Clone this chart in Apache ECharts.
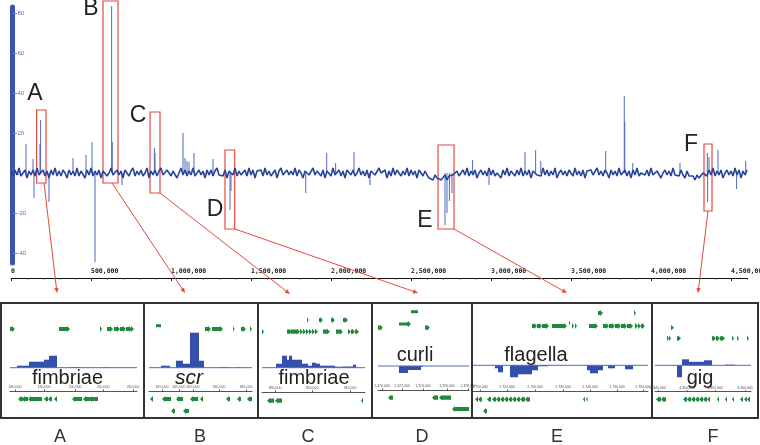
<!DOCTYPE html>
<html><head><meta charset="utf-8">
<script src="https://cdn.jsdelivr.net/npm/echarts@6/dist/echarts.min.js"></script>
<style>html,body{margin:0;padding:0;background:#fff}#c{width:760px;height:445px}</style>
</head><body><div id="c"></div>
<script>
// ---------- main genome-wide track ----------
const STEP = 12500; // bp between baseline samples
const signalBase = [
1,-1.5,1.5,-1,2.5,-1.5,0,1.5,-2.5,1,-1,1.5,-1.5,2.5,-1,0,1.5,-1.5,1,-2.5,
1.5,-1,2.5,-1.5,1,-1.5,1.5,0,-2.5,1.5,-1,1,-1.5,2.5,-1.5,1,0,-2.5,1.5,-1,
2.5,-1.5,1,-1,1.5,-2.5,1,1.5,-1.5,0,2.5,-1,-1.5,1.5,-1,1,-2.5,1.5,0,-1.5,
1,2.5,-1.5,1,-1,1.5,-1.5,0,2.5,-2.5,1,-1,1.5,-1.5,1,2.5,-1,-1.5,1.5,0,
-1.5,1,1.5,-2.5,0,2.5,-1,1.5,-1.5,1,-1,2.5,-1.5,0,1.5,-1,1,-2.5,1.5,-1,
1.5,-1.5,1,2.5,-1,0,-1.5,1.5,-2.5,1,1.5,-1,2.5,-1.5,1,-1,0,1.5,-1.5,2.5,
-1,1.5,-2.5,1,0,1.5,-1.5,2.5,-1,1,-1.5,0,1.5,-2.5,1,2.5,-1,-1.5,1.5,-1,
1,-1,2.5,-1.5,1.5,0,-2.5,1,1.5,-1,-1.5,2.5,-1,1,0,-1.5,1.5,-2.5,1,1.5,
-1.5,2.5,-1,0,1.5,-1.5,1,-2.5,1.5,1,-1,1.5,-1.5,0,2.5,-1,1,-1.5,1.5,-2.5,
1,1.5,-1,-1.5,2.5,0,-1,1.5,-2.5,1,-1.5,2.5,-1,1.5,0,-1.5,1,-1,2.5,-1.5,
1.5,-1,1,-2.5,1.5,0,-1.5,1,-1,-2.5,-1.5,-3.5,-1,-2.5,-1.5,-3.5,-2.5,-1,-3.5,-1.5,
-2.5,-1,-1.5,1,-1.5,0,1.5,-1,2.5,-1.5,1,-1,1.5,-2.5,0,1.5,-1,1,-1.5,2.5,
-1,1.5,-1.5,0,1,-2.5,1.5,-1,2.5,-1.5,1,0,-1.5,1.5,-1,2.5,-1.5,1,-1,1.5,
-2.5,1,1.5,-1,0,-1.5,2.5,-1,1.5,-1.5,1,-1,2.5,-2.5,0,1.5,-1,1,-1.5,1.5,
0,-1.5,2.5,-1,1,-1.5,1.5,-2.5,1,0,1.5,-1,-1.5,2.5,-1,1,-1.5,1.5,0,-2.5,
1.5,-1,1,-1.5,2.5,-1,0,1.5,-1.5,1,-2.5,1.5,-1,2.5,-1.5,0,1,-1,1.5,-1.5,
2.5,-1,-1.5,1,1.5,-2.5,0,1.5,-1,1,-1.5,2.5,-1,0,-1.5,1.5,-1,-2.5,1,-1.5,
-2.5,-1.5,-3.5,-1,-2.5,-1.5,0,1,-1.5,1.5,-1,2.5,-1.5,1,-1,1.5,-2.5,0,1.5,-1,
1,-1.5,2.5,-1,1.5,-2.5,1,-1,1.5
];
const spikes = [
[93750,14.5],[137500,7],[143750,-12.5],[181250,14.5],[185000,26.5],[237500,-14.5],
[387500,7.5],[468750,9],[506250,15.5],[525000,-44.5],[629000,83.5],[633000,15.5],
[693750,-6],[896000,12.5],[900000,10],[1075000,20],[1087500,7.5],[1100000,6],
[1112500,5.5],[1143750,10],[1262500,7],[1368750,-18.5],[1375000,-9],[1842000,-10],
[1973000,10],[2029000,5],[2143750,10.5],[2243750,-6],[2712500,-26],[2725000,-20],
[2740000,-14],[2756000,-10],[2885000,6.5],[2987500,-6],[3212500,10.5],[3279000,11.5],
[3311000,6],[3717000,11],[3833000,38.5],[3836000,25.5],[3886000,5],[4181000,5],
[4352000,10],[4354000,-14.5],[4362500,8],[4418750,11.5],[4535000,-8],[4592000,6]
];
const genomeTicks = [0,500000,1000000,1500000,2000000,2500000,3000000,3500000,4000000,4500000];
const yTicks = [-40,-20,0,20,40,60,80];
const regionNames = ['A','B','C','D','E','F'];
// [startBp, endBp, topValue, bottomValue]
const regionBoxes = [
[160000,218750,31.5,-5],[575000,668750,86,-5],[868750,931250,30.5,-10],
[1337500,1398000,11.5,-28],[2668750,2768750,14,-28],[4331250,4381250,14.5,-19]
];
// anchor of the connector on each box [bp, value]
const regionAnchors = [[206250,-5],[631250,-5],[931250,-10],[1400000,-28],[2768750,-28],[4356250,-19]];

// ---------- zoomed panels ----------
const panelLabels = ['fimbriae','scr','fimbriae','curli','flagella','gig'];
// genes: [start, end, track, strand]
const genesA = [[0,5,24,1],[49,60,24,1],[90,92,24,1],[97,103,24,1],[104,110,24,1],[110,116,24,1],[116,122,24,1],[121,124,24,1],
[8,13,94,-1],[12,18,94,-1],[18,32,94,-1],[34,38,94,-1],[38,42,94,-1],[44,47,94,-1],[62,72,94,-1],[73,80,94,-1],[79,88,94,-1]];
const genesB = [[7,12,20.7,0],[56,62,24,1],[63,74,24,1],[84,85.5,24,1],[92,97,24,1],[101,103,24,1],
[1,4,94,-1],[13,22,94,-1],[27,34,94,-1],[41,49,94,-1],[51,54,94,-1],[77,81,94,-1],[88,92,94,-1],[98,103,94,-1],
[22,26,106,-1],[34,40,106,-1]];
const genesC = [[45,46.5,15,1],[57,61,15,1],[69,73,15,1],[81,86,15,1],
[0,2,26.7,1],[25,30,26.7,1],[29,38,26.7,1],[38,41,26.7,1],[41,44,26.7,1],[44,47,26.7,1],[47,50,26.7,1],[50,53,26.7,1],[53,56,26.7,1],
[61,68,26.7,1],[74,81,26.7,1],[86,89,26.7,1],[89,93,26.7,1],[93,97,26.7,1],
[5,12,95.7,-1],[13,20,95.7,-1],[99,101,95.7,-1]];
const genesD = [[33,40,6.7,0],[21,29,19,0],[29,33,19,1],[0,5,22.7,1],[47,52,22.7,1],
[10,15,92.7,-1],[54,60,92.7,-1],[61,73,92.7,-1],[74,91,104,-1]];
const genesE = [[125,130,8,1],[161,163,8,1],[96,97,18,0],
[59,64,21,1],[64,69,21,1],[69,76,21,1],[79,94,21,1],[99,101,21,1],[102,104,21,1],[116,125,21,1],[130,136,21,1],
[136,142,21,1],[142,148,21,1],[148,154,21,1],[154,160,21,1],[162,165,21,1],[165,168,21,1],[168,172,21,1],
[2,5,94.3,-1],[5,9,94.3,-1],[14,18,94.3,-1],[19,23,94.3,-1],[23,27,94.3,-1],[27,31,94.3,-1],[31,35,94.3,-1],
[35,39,94.3,-1],[39,43,94.3,-1],[43,47,94.3,-1],[47,52,94.3,-1],[52,57,94.3,-1],[110,112,94.3,-1],[113,114.5,94.3,-1],
[10,14,106,-1]];
const genesF = [[16,19,22.7,1],[12,14,33.3,1],[14,16,33.3,1],[22,26,33.3,1],[57,61,33.3,1],[61,65,33.3,1],[65,70,33.3,1],
[77,79,33.3,1],[82,84,33.3,1],[92,94,33.3,1],
[1,6,94.3,-1],[6,11,94.3,-1],[28,32,94.3,-1],[32,36,94.3,-1],[36,40,94.3,-1],[40,44,94.3,-1],[44,48,94.3,-1],
[48,52,94.3,-1],[52,55,94.3,-1],[62,64,94.3,-1],[70,72,94.3,-1],[77,79,94.3,-1],[85,88,94.3,-1],[89,92,94.3,-1],[92,95,94.3,-1]];
// histograms: [start, end, value]
const histA = [[7,19,2],[19,34,6],[34,39,8],[39,47,12],[60,70,0.7],[92,100,0.5]];
const histB = [[12,21,2],[27,34,7],[34,41,4],[41,50,35],[50,55,7],[70,80,0.6],[88,92,0.6]];
const histC = [[14,20,4],[20,25,12],[25,27,8],[27,30,12],[30,40,8],[40,46,4],[46,50,2],[50,54,5],[54,58,4],[58,73,2],[73,80,1],[80,91,1.2],[91,94,3]];
const histD = [[21,30,-7],[30,43,-4],[43,45,-1]];
const histE = [[22,25,-3],[25,30,-7],[37,45,-12],[45,59,-9],[59,65,-5],[65,75,-1],[114,117,-5],[117,125,-8],[125,130,-5],[135,142,-3],[152,160,-4]];
const histF = [[22,27,-12],[27,34,6],[34,49,3.5],[49,57,5],[70,80,0.6]];
const rulerTicksA = [5,34,65,93,123],   rulerLabelsA = ['180,000','190,000','200,000','210,000','220,000'];
const rulerTicksB = [13,30,44,70,97],   rulerLabelsB = ['615,000','620,000','625,000','630,000','635,000'];
const rulerTicksC = [13,50,88],         rulerLabelsC = ['890,000','900,000','910,000'];
const rulerTicksD = [4,24,45,69,90],    rulerLabelsD = ['1,370,000','1,372,000','1,374,000','1,376,000','1,378,000'];
const rulerTicksE = [7,34,62,90,117,144,170], rulerLabelsE = ['2,720,000','2,725,000','2,730,000','2,735,000','2,740,000','2,745,000','2,750,000'];
const rulerTicksF = [3,32,60,90],       rulerLabelsF = ['4,345,000','4,350,000','4,355,000','4,360,000'];

// ---------- layout / style (not data) ----------
const BLUE = '#2a449c', LIGHTBLUE = '#5069c0', GREEN = '#1f8a3b', RED = '#e8493d', DARK = '#333';
const panelGenes = [genesA,genesB,genesC,genesD,genesE,genesF];
const panelHist = [histA,histB,histC,histD,histE,histF];
const panelTicks = [rulerTicksA,rulerTicksB,rulerTicksC,rulerTicksD,rulerTicksE,rulerTicksF];
const panelTickLabels = [rulerLabelsA,rulerLabelsB,rulerLabelsC,rulerLabelsD,rulerLabelsE,rulerLabelsF];
// [gridLeft, width, baselineY(local), rulerOffset]
const panelLayout = [[10,127,62.7,-26],[149,103,62.7,-26],[262,103,62.7,-25],[378,91,61,-27],[473,175,60.3,-26],[655,96,60.3,-25.3]];
const PTOP = 305, PH = 112;

function fmt(v){ return String(v).replace(/\B(?=(\d{3})+(?!\d))/g, ','); }

const grid = [
  {left:11, top:1, width:736, height:277, outerBoundsMode:'none', containLabel:false},
  {left:12.5, top:7, width:1, height:256, outerBoundsMode:'none', containLabel:false}
];
const xAxis = [
  {gridIndex:0, type:'value', min:0, max:4600000, interval:500000, position:'bottom',
   axisLine:{onZero:false, lineStyle:{color:'#111', width:1}},
   axisTick:{length:3, lineStyle:{color:'#111'}, customValues: genomeTicks},
   axisLabel:{inside:true, align:'left', margin:3, fontSize:6.5, fontWeight:'bold', fontFamily:'DejaVu Sans Mono', color:'#222',
     customValues: genomeTicks, formatter: v => fmt(v)},
   splitLine:{show:false}},
  {gridIndex:0, type:'value', min:0, max:4600000, interval:100000, position:'bottom',
   axisLine:{show:false, onZero:false}, axisLabel:{show:false}, splitLine:{show:false},
   axisTick:{length:1.5, lineStyle:{color:'#333'}}},
  {gridIndex:1, type:'value', show:false, axisLine:{onZero:false}}
];
const yAxis = [
  {gridIndex:0, type:'value', min:-52.5, max:86, show:false},
  {gridIndex:1, type:'value', min:-45, max:83,
   axisLine:{show:true, onZero:false, lineStyle:{color:'#3a55b0', width:5}},
   axisTick:{show:true, inside:true, length:4.5, customValues:yTicks, lineStyle:{color:'#6b80cc', width:1}},
   axisLabel:{inside:true, margin:5, fontSize:6, color:'#5a70c0', fontFamily:'Liberation Sans', customValues:yTicks},
   splitLine:{show:false}}
];
const series = [
  {type:'bar', xAxisIndex:0, yAxisIndex:0, barWidth:1, itemStyle:{color:LIGHTBLUE}, z:2,
   data: spikes, silent:true},
  {type:'line', xAxisIndex:0, yAxisIndex:0, symbol:'none', z:3, silent:true,
   lineStyle:{color:BLUE, width:1.6},
   data: signalBase.map((v,i)=>[i*STEP, v]),
   markArea:{silent:true, label:{show:false},
     itemStyle:{color:'rgba(0,0,0,0)', borderColor:RED, borderWidth:1.2},
     data: regionBoxes.map(b=>[{coord:[b[0],b[2]]},{coord:[b[1],b[3]]}])}}
];

function renderGene(params, api){
  const s = api.coord([api.value(0), api.value(2)]);
  const e = api.coord([api.value(1), api.value(2)]);
  const dir = api.value(3);
  const y = s[1], x1 = s[0], x2 = e[0];
  const len = x2 - x1;
  let pts;
  if (dir === 0) {
    pts = [[x1,y-1.5],[x2,y-1.5],[x2,y+1.5],[x1,y+1.5]];
  } else {
    const bh = 2.1, hh = 2.9, head = Math.min(3, len);
    if (dir > 0) pts = [[x1,y-bh],[x2-head,y-bh],[x2-head,y-hh],[x2,y],[x2-head,y+hh],[x2-head,y+bh],[x1,y+bh]];
    else pts = [[x2,y-bh],[x1+head,y-bh],[x1+head,y-hh],[x1,y],[x1+head,y+hh],[x1+head,y+bh],[x2,y+bh]];
  }
  return {type:'polygon', shape:{points:pts}, style:{fill:GREEN}};
}
function renderHist(params, api){
  const p0 = api.coord([api.value(0), 0]);
  const p1 = api.coord([api.value(1), api.value(2)]);
  return {type:'rect', shape:{x:p0[0], y:Math.min(p0[1],p1[1]), width:p1[0]-p0[0], height:Math.abs(p1[1]-p0[1])},
    style:{fill:'#3350aa'}};
}

panelLayout.forEach((L, p) => {
  const gi = grid.length;
  grid.push({left:L[0], top:PTOP, width:L[1], height:PH, outerBoundsMode:'none', containLabel:false});
  const xi = xAxis.length;
  const ticks = panelTicks[p], labels = panelTickLabels[p];
  xAxis.push({gridIndex:gi, type:'value', min:0, max:L[1], position:'bottom', offset:L[3],
    axisLine:{onZero:false, lineStyle:{color:'#555', width:1}},
    axisTick:{inside:true, length:1.5, customValues:ticks, lineStyle:{color:'#555'}},
    axisLabel:{inside:true, margin:2, fontSize:3.5, color:'#555', customValues:ticks,
      formatter: v => labels[ticks.indexOf(v)] || ''},
    splitLine:{show:false}});
  const yg = yAxis.length;
  yAxis.push({gridIndex:gi, type:'value', inverse:true, min:0, max:PH, show:false});
  const yh = yAxis.length;
  yAxis.push({gridIndex:gi, type:'value', min:-(PH-L[2]), max:L[2], show:false});
  series.push({type:'line', xAxisIndex:xi, yAxisIndex:yh, symbol:'none', silent:true,
    lineStyle:{color:'#5068b8', width:1}, data:[[0,0],[L[1],0]]});
  series.push({type:'custom', xAxisIndex:xi, yAxisIndex:yh, renderItem:renderHist, silent:true,
    encode:{x:[0,1], y:2}, data:panelHist[p]});
  series.push({type:'custom', xAxisIndex:xi, yAxisIndex:yg, renderItem:renderGene, silent:true,
    encode:{x:[0,1], y:2}, data:panelGenes[p]});
});

const chart = echarts.init(document.getElementById('c'), null, {renderer:'canvas'});
chart.setOption({animation:false, backgroundColor:'#fff', grid, xAxis, yAxis, series});

// ---------- annotations ----------
const FONT = 'Liberation Sans, Arial, sans-serif';
const mainLetterPos = [[35,94],[91,9],[138,116],[215,210],[425,221],[691,145]];
const arrowTips = [[57,293],[185,293],[290,294],[418,293],[567,293],[698,293]];
const panelDividers = [144,258,372,472,652];
const panelLetterX = [60,200,308,422,557,713];
const panelLabelPos = [[67.5,378],[189,378],[314,378],[415,355.5],[536,355],[700,378]];

const g = [];
g.push({type:'rect', shape:{x:1, y:303, width:757, height:115}, style:{fill:'none', stroke:DARK, lineWidth:2}, z:100});
panelDividers.forEach(x => g.push({type:'line', shape:{x1:x, y1:303, x2:x, y2:418}, style:{stroke:DARK, lineWidth:2}, z:100}));
regionNames.forEach((n,i) => {
  g.push({type:'text', x:mainLetterPos[i][0], y:mainLetterPos[i][1], z:100,
    style:{text:n, fill:'#222', font:'23px ' + FONT, align:'center', verticalAlign:'middle'}});
  g.push({type:'text', x:panelLetterX[i], y:437, z:100,
    style:{text:n, fill:'#333', font:'18px ' + FONT, align:'center', verticalAlign:'middle'}});
  const lp = panelLabelPos[i];
  g.push({type:'text', x:lp[0], y:lp[1], z:100,
    style:{text:panelLabels[i], fill:'#222', font:(i===1?'italic ':'') + (i===1?'21px ':'20px ') + FONT, align:'center', verticalAlign:'middle'}});
  const s = chart.convertToPixel({xAxisIndex:0, yAxisIndex:0}, regionAnchors[i]);
  const t = arrowTips[i];
  const dx = t[0]-s[0], dy = t[1]-s[1], d = Math.hypot(dx,dy), ux = dx/d, uy = dy/d;
  const hl = 5, hw = 2.2;
  g.push({type:'line', shape:{x1:s[0], y1:s[1], x2:t[0]-ux*3, y2:t[1]-uy*3}, style:{stroke:RED, lineWidth:1}, z:90});
  g.push({type:'polygon', shape:{points:[[t[0],t[1]],[t[0]-ux*hl-uy*hw, t[1]-uy*hl+ux*hw],[t[0]-ux*hl+uy*hw, t[1]-uy*hl-ux*hw]]},
    style:{fill:RED}, z:90});
});
chart.setOption({graphic: g});
</script>
</body></html>
